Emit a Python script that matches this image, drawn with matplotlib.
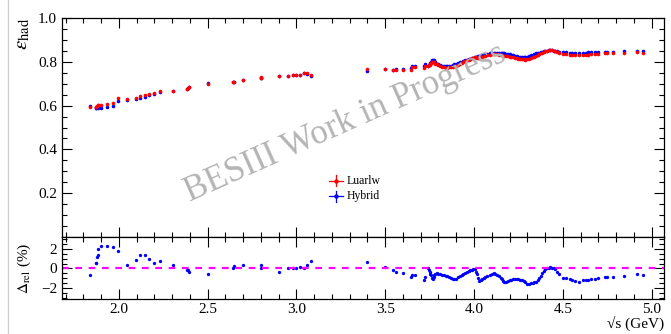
import matplotlib
matplotlib.use("Agg")
import matplotlib.pyplot as plt
from matplotlib.ticker import MultipleLocator
from matplotlib.lines import Line2D

plt.rcParams['font.family'] = ['Liberation Serif', 'DejaVu Serif']
plt.rcParams['mathtext.fontset'] = 'stix'

# sqrt(s) in GeV
energy = [1.840, 1.870, 1.872, 1.877, 1.880, 1.885, 1.897, 1.936, 1.966, 1.996,
          2.047, 2.096, 2.120, 2.147, 2.170, 2.197, 2.230, 2.306, 2.386, 2.390,
          2.396, 2.500, 2.644, 2.646, 2.700, 2.800, 2.802, 2.900, 2.950, 2.981,
          3.000, 3.020, 3.045, 3.058, 3.080,
          3.400, 3.500, 3.543, 3.560, 3.600, 3.645, 3.652, 3.670, 3.720, 3.725,
          3.740, 3.745, 3.750, 3.755, 3.760, 3.765, 3.768, 3.773, 3.777, 3.783,
          3.790, 3.800, 3.810, 3.820, 3.830, 3.840, 3.850, 3.860, 3.870, 3.880,
          3.890, 3.900, 3.910, 3.920, 3.930, 3.940, 3.950, 3.960, 3.970, 3.980,
          3.988, 3.995, 4.007, 4.012, 4.016, 4.022, 4.030, 4.038, 4.045, 4.055,
          4.063, 4.075, 4.090, 4.100, 4.110, 4.120, 4.130, 4.140, 4.150, 4.157,
          4.163, 4.170, 4.180, 4.190, 4.200, 4.210, 4.220, 4.230, 4.240, 4.250,
          4.260, 4.270, 4.280, 4.290, 4.300, 4.310, 4.320, 4.330, 4.340, 4.350,
          4.358, 4.365, 4.375, 4.383, 4.392, 4.400, 4.410, 4.420, 4.430, 4.440,
          4.450, 4.458, 4.470, 4.480, 4.500, 4.518, 4.540, 4.553, 4.570, 4.590,
          4.612, 4.628, 4.641, 4.661, 4.682, 4.699, 4.740, 4.750, 4.781, 4.843,
          4.918, 4.951]

eff_hybrid = [0.597, 0.590, 0.590, 0.593, 0.593, 0.590, 0.590, 0.594, 0.597, 0.623,
              0.626, 0.630, 0.635, 0.638, 0.648, 0.652, 0.660, 0.666, 0.677, 0.680,
              0.686, 0.702, 0.708, 0.707, 0.716, 0.728, 0.725, 0.737, 0.733, 0.739,
              0.739, 0.741, 0.748, 0.745, 0.735,
              0.760, 0.768, 0.764, 0.766, 0.766, 0.770, 0.779, 0.782, 0.780, 0.790,
              0.783, 0.786, 0.790, 0.795, 0.800, 0.806, 0.810, 0.808, 0.803, 0.797,
              0.792, 0.788, 0.784, 0.781, 0.779, 0.779, 0.779, 0.781, 0.783, 0.785,
              0.788, 0.791, 0.794, 0.797, 0.800, 0.803, 0.806, 0.809, 0.812, 0.815,
              0.817, 0.819, 0.822, 0.823, 0.824, 0.826, 0.828, 0.830, 0.831, 0.833,
              0.834, 0.836, 0.838, 0.839, 0.839, 0.840, 0.840, 0.840, 0.839, 0.839,
              0.838, 0.838, 0.837, 0.836, 0.834, 0.832, 0.829, 0.827, 0.825, 0.823,
              0.822, 0.821, 0.821, 0.822, 0.824, 0.827, 0.830, 0.833, 0.835, 0.838,
              0.840, 0.842, 0.844, 0.846, 0.848, 0.850, 0.851, 0.852, 0.852, 0.852,
              0.851, 0.850, 0.848, 0.846, 0.844, 0.843, 0.842, 0.842, 0.842, 0.841,
              0.842, 0.842, 0.843, 0.843, 0.844, 0.845, 0.846, 0.846, 0.847, 0.849,
              0.848, 0.848]

eff_luarlw = [0.593, 0.593, 0.594, 0.600, 0.601, 0.602, 0.603, 0.607, 0.610, 0.634,
              0.628, 0.635, 0.644, 0.647, 0.654, 0.656, 0.665, 0.668, 0.676, 0.679,
              0.683, 0.698, 0.709, 0.709, 0.719, 0.731, 0.726, 0.734, 0.734, 0.740,
              0.739, 0.742, 0.748, 0.748, 0.741,
              0.765, 0.769, 0.763, 0.763, 0.762, 0.763, 0.774, 0.777, 0.771, 0.783,
              0.783, 0.784, 0.787, 0.791, 0.794, 0.798, 0.801, 0.801, 0.797, 0.792,
              0.788, 0.784, 0.779, 0.776, 0.774, 0.773, 0.773, 0.774, 0.775, 0.776,
              0.779, 0.783, 0.787, 0.791, 0.794, 0.798, 0.802, 0.806, 0.810, 0.813,
              0.816, 0.818, 0.821, 0.820, 0.819, 0.818, 0.817, 0.820, 0.822, 0.825,
              0.826, 0.829, 0.832, 0.834, 0.835, 0.835, 0.834, 0.833, 0.831, 0.830,
              0.828, 0.826, 0.826, 0.825, 0.824, 0.822, 0.820, 0.818, 0.816, 0.814,
              0.813, 0.811, 0.811, 0.810, 0.811, 0.814, 0.818, 0.821, 0.823, 0.827,
              0.830, 0.834, 0.838, 0.842, 0.845, 0.849, 0.851, 0.853, 0.853, 0.853,
              0.851, 0.849, 0.845, 0.841, 0.836, 0.835, 0.833, 0.832, 0.831, 0.829,
              0.832, 0.832, 0.833, 0.834, 0.835, 0.837, 0.838, 0.839, 0.840, 0.842,
              0.843, 0.842]

# relative difference in %
delta_rel = [-0.70, 0.55, 0.60, 1.20, 1.35, 2.00, 2.25, 2.25, 2.15, 1.75,
             0.35, 0.85, 1.40, 1.35, 0.95, 0.60, 0.80, 0.35, -0.20, -0.15,
             -0.40, -0.60, 0.10, 0.25, 0.35, 0.40, 0.10, -0.35, 0.10, 0.10,
             0.00, 0.20, 0.05, 0.35, 0.80,
             0.65, 0.15, -0.15, -0.40, -0.47, -0.87, -0.67, -0.65, -1.13, -0.90,
             0.00, -0.20, -0.40, -0.55, -0.70, -0.95, -1.10, -0.90, -0.70, -0.60,
             -0.50, -0.55, -0.60, -0.65, -0.70, -0.72, -0.78, -0.90, -1.00, -1.10,
             -1.10, -1.05, -0.90, -0.80, -0.70, -0.60, -0.50, -0.40, -0.30, -0.20,
             -0.13, -0.10, -0.10, -0.35, -0.60, -0.95, -1.30, -1.20, -1.10, -1.00,
             -0.90, -0.80, -0.70, -0.60, -0.50, -0.55, -0.70, -0.80, -0.95, -1.10,
             -1.25, -1.40, -1.35, -1.30, -1.20, -1.15, -1.10, -1.05, -1.10, -1.10,
             -1.15, -1.20, -1.25, -1.40, -1.55, -1.60, -1.50, -1.45, -1.40, -1.35,
             -1.20, -1.00, -0.75, -0.50, -0.30, -0.10, 0.05, 0.10, 0.12, 0.10,
             0.00, -0.10, -0.35, -0.60, -0.95, -1.00, -1.05, -1.15, -1.30, -1.40,
             -1.20, -1.15, -1.15, -1.10, -1.05, -0.95, -0.90, -0.88, -0.85, -0.80,
             -0.55, -0.65]

W, H = 671, 334
fig = plt.figure(figsize=(W / 100, H / 100), dpi=100)
left, right = 62 / W, 664 / W
ax = fig.add_axes([left, 1 - 237 / H, right - left, (237 - 18) / H])
axr = fig.add_axes([left, 1 - 299 / H, right - left, (299 - 237) / H], sharex=ax)

ms = 2.6
ax.plot(energy, eff_hybrid, 'o', color='blue', ms=ms, mew=0)
ax.plot(energy, eff_luarlw, 'o', color='red', ms=ms, mew=0)
ax.set_ylim(0, 1.0)
ax.set_xlim(1.68, 5.07)

axr.plot(energy, delta_rel, 'o', color='blue', ms=2.4, mew=0)
axr.axhline(0, color='magenta', ls=(0, (3, 3)), lw=1.6)
axr.set_ylim(-3.1, 3.2)

for a in (ax, axr):
    a.tick_params(which='both', direction='in', top=True, right=True,
                  labelsize=11, width=0.8)
    a.tick_params(which='major', length=7)
    a.tick_params(which='minor', length=3.5)
    a.xaxis.set_major_locator(MultipleLocator(0.5))
    a.xaxis.set_minor_locator(MultipleLocator(0.1))
    for s in a.spines.values():
        s.set_linewidth(0.9)

ax.yaxis.set_major_locator(MultipleLocator(0.2))
ax.yaxis.set_minor_locator(MultipleLocator(0.05))
ax.set_yticks([0.2, 0.4, 0.6, 0.8, 1.0])
ax.set_yticklabels(['0.2', '0.4', '0.6', '0.8', '1.0'])
ax.tick_params(labelbottom=False)
axr.yaxis.set_major_locator(MultipleLocator(2))
axr.yaxis.set_minor_locator(MultipleLocator(0.5))
axr.set_xticks([2.0, 2.5, 3.0, 3.5, 4.0, 4.5, 5.0])
axr.set_xticklabels(['2.0', '2.5', '3.0', '3.5', '4.0', '4.5', '5.0'])
axr.tick_params(axis='x', pad=3)
axr.set_yticks([-2, 0, 2])
axr.set_yticklabels(['\u22122', '0', '2'])

ax.set_ylabel(r'$\varepsilon_{\rm had}$', fontsize=15, loc='top', labelpad=4)
axr.set_ylabel(r'$\Delta_{\rm rel}$ (%)', fontsize=11, labelpad=6)
axr.set_xlabel('\u221as (GeV)', fontsize=11, loc='right', labelpad=0)

# watermark
ax.text(0.47, 0.52, 'BESIII Work in Progress', transform=ax.transAxes,
        fontsize=25, color='#b4b4b4', rotation=24, ha='center', va='center')

# legend
for ypos, col, lab in [(0.256, 'red', 'Luarlw'), (0.187, 'blue', 'Hybrid')]:
    x0 = 0.455
    ax.add_line(Line2D([x0 - 0.012, x0 + 0.012], [ypos, ypos], color=col, lw=0.9,
                       transform=ax.transAxes))
    ax.add_line(Line2D([x0, x0], [ypos - 0.025, ypos + 0.025], color=col, lw=0.9,
                       transform=ax.transAxes))
    ax.plot([x0], [ypos], 'o', color=col, ms=2.2, transform=ax.transAxes)
    ax.text(0.472, ypos, lab, transform=ax.transAxes, fontsize=8.5,
            va='center', ha='left')

fig.add_artist(Line2D([8 / W, 8 / W], [0, 1], color='#d0d0d0', lw=1))

fig.savefig('out.png', dpi=100)
